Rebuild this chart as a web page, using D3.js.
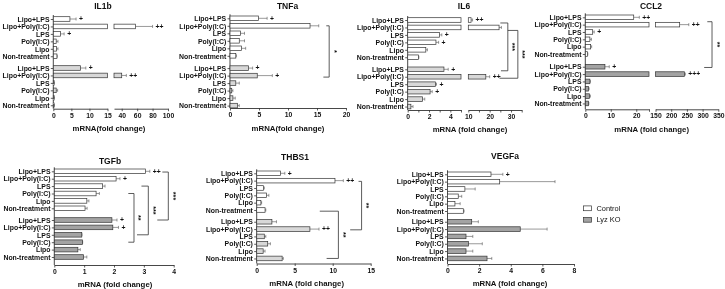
<!DOCTYPE html>
<html><head><meta charset="utf-8">
<script src="https://cdn.jsdelivr.net/npm/d3@7"></script>
<style>body{margin:0;background:#fff}svg{display:block;will-change:transform}text{font-family:"Liberation Sans",Arial,sans-serif;fill:#111}</style>
</head><body><svg id="c" width="725" height="289"></svg>
<script>
const categories = ["Lipo+LPS","Lipo+Poly(I:C)","LPS","Poly(I:C)","Lipo","Non-treatment"];
const seriesNames = ["Control","Lyz KO"];

const il1bControl = [4.6, 58, 2.0, 0.8, 0.9, 1.0];
const il1bControlErr = [6.3, 80, 3.0, 1.3, 1.3, 1.1];
const il1bKO = [7.5, 40, 0.2, 0.8, 0.2, 0.2];
const il1bKOErr = [9, 46, 0.3, 1.2, 0.3, 0.3];
const il1bControlSig = ["+","++","+","","",""];
const il1bKOSig = ["+","++","","","",""];

const tnfaControl = [4.9, 13.8, 1.8, 1.6, 2.0, 1.0];
const tnfaControlErr = [6.4, 15.3, 2.5, 2.5, 2.7, 1.1];
const tnfaKO = [3.2, 4.7, 1.0, 0.3, 0.5, 1.3];
const tnfaKOErr = [3.9, 7.3, 1.6, 0.5, 0.9, 1.6];
const tnfaControlSig = ["+","","","","",""];
const tnfaKOSig = ["+","+","","","",""];

const il6Control = [11.3, 24.4, 2.97, 2.65, 1.7, 1.0];
const il6ControlErr = [12, 25.5, 3.2, 2.9, 1.85, 1.05];
const il6KO = [3.4, 18.2, 2.6, 2.1, 1.4, 0.3];
const il6KOErr = [3.8, 20, 2.7, 2.3, 1.6, 0.5];
const il6ControlSig = ["++","","+","+","",""];
const il6KOSig = ["+","++","+","+","",""];

const ccl2Control = [19, 227, 2.9, 1.8, 2.1, 0.9];
const ccl2ControlErr = [21.2, 256, 3.5, 2.4, 2.5, 1.0];
const ccl2KO = [7.7, 242, 1.8, 1.2, 1.6, 1.3];
const ccl2KOErr = [9.4, 245, 2.0, 1.5, 2.0, 1.4];
const ccl2ControlSig = ["++","++","+","","",""];
const ccl2KOSig = ["+","+++","","","",""];

const tgfbControl = [3.05, 2.07, 1.62, 1.4, 1.09, 1.03];
const tgfbControlErr = [3.2, 2.2, 1.7, 1.51, 1.16, 1.1];
const tgfbKO = [1.93, 1.96, 0.92, 0.94, 0.79, 0.98];
const tgfbKOErr = [2.1, 2.15, 0.93, 0.95, 0.87, 1.09];
const tgfbControlSig = ["++","+","","","",""];
const tgfbKOSig = ["+","+","","","",""];

const thbs1Control = [3.15, 10.3, 0.9, 1.3, 0.55, 1.1];
const thbs1ControlErr = [3.7, 11.4, 1.0, 1.6, 0.65, 1.2];
const thbs1KO = [2.0, 7.0, 1.0, 1.45, 0.85, 3.35];
const thbs1KOErr = [2.6, 8.2, 1.2, 1.8, 1.1, 3.5];
const thbs1ControlSig = ["+","++","","","",""];
const thbs1KOSig = ["","++","","","",""];

const vegfaControl = [2.75, 3.3, 1.1, 0.68, 0.47, 1.0];
const vegfaControlErr = [3.5, 6.8, 1.75, 0.9, 0.8, 1.05];
const vegfaKO = [1.53, 4.6, 1.17, 1.32, 1.17, 2.5];
const vegfaKOErr = [1.95, 6.3, 1.6, 2.2, 1.6, 2.8];
const vegfaControlSig = ["+","","","","",""];
const vegfaKOSig = ["","","","","",""];

// significance brackets: rows (0-5 control, 6-11 KO), x values in data units
const tnfaBrackets = [{rows:[1,7.2], at:17.1, topFrom:16.6, botFrom:16.1, label:"*"}];
const il6Brackets = [{rows:[0.4,6.2], at:28.5, topFrom:25, botFrom:25.3, label:"***"},
                     {rows:[1.4,7.2], at:33.2, topFrom:28.5, botFrom:24.6, label:"***"}];
const ccl2Brackets = [{rows:[0.6,6.1], at:330, topFrom:315, botFrom:305, label:"**"}];
const tgfbBrackets = [{rows:[0.1,6.0], at:3.82, topFrom:3.62, botFrom:3.45, label:"***"},
                      {rows:[2.0,8.0], at:3.15, topFrom:2.92, botFrom:2.77, label:"***"},
                      {rows:[3.0,9.0], at:2.67, topFrom:2.48, botFrom:2.48, label:"**"}];
const thbs1Brackets = [{rows:[1.1,7.1], at:13.8, topFrom:13.4, botFrom:12.3, label:"**"},
                       {rows:[5.1,11.0], at:10.75, topFrom:8.3, botFrom:9.2, label:"**"}];

const LIGHT = "#d8d8d8", DARK = "#a3a3a3";

const panels = [
 {title:"IL1b", c:il1bControl, ce:il1bControlErr, k:il1bKO, ke:il1bKOErr, cs:il1bControlSig, ks:il1bKOSig, br:[],
  segs:[{d:[0,15], r:[53.3,107.5], t:[0,5,10,15], l:[0,5,10,15]},{d:[30,100], r:[114,168], t:[40,60,80,100], l:[40,60,80,100]}],
  y0:19, s:7.45, g:4.3, axisY:108.7, tx:103, ty:9, xt:"mRNA(fold change)", xtx:109, xty:131, ko:LIGHT},
 {title:"TNFa", c:tnfaControl, ce:tnfaControlErr, k:tnfaKO, ke:tnfaKOErr, cs:tnfaControlSig, ks:tnfaKOSig, br:tnfaBrackets,
  segs:[{d:[0,20], r:[230,346], t:[0,5,10,15,20], l:[0,5,10,15,20]}],
  y0:18.3, s:7.5, g:4.8, axisY:108, tx:287.5, ty:9, xt:"mRNA(fold change)", xtx:288, xty:131, ko:LIGHT},
 {title:"IL6", c:il6Control, ce:il6ControlErr, k:il6KO, ke:il6KOErr, cs:il6ControlSig, ks:il6KOSig, br:il6Brackets,
  segs:[{d:[0,5], r:[407.7,461], t:[0,1,2,3,4,5], l:[0,2,4]},{d:[10,35], r:[468.3,521.7], t:[10,15,20,25,30,35], l:[10,20,30]}],
  y0:20, s:7.45, g:4.6, axisY:110, tx:464, ty:9, xt:"mRNA (fold change)", xtx:470, xty:131.5, ko:LIGHT},
 {title:"CCL2", c:ccl2Control, ce:ccl2ControlErr, k:ccl2KO, ke:ccl2KOErr, cs:ccl2ControlSig, ks:ccl2KOSig, br:ccl2Brackets,
  segs:[{d:[0,25], r:[585.3,649], t:[0,10,20,25], l:[0,10,20]},{d:[150,350], r:[655.5,718.3], t:[150,200,250,300,350], l:[150,200,250,300,350]}],
  y0:17.3, s:7.34, g:5.4, axisY:109.3, tx:651, ty:9, xt:"mRNA (fold change)", xtx:651.7, xty:131.5, ko:DARK},
 {title:"TGFb", c:tgfbControl, ce:tgfbControlErr, k:tgfbKO, ke:tgfbKOErr, cs:tgfbControlSig, ks:tgfbKOSig, br:tgfbBrackets,
  segs:[{d:[0,4], r:[54.3,173.7], t:[0,1,2,3,4], l:[0,1,2,3,4]}],
  y0:171.3, s:7.4, g:4.3, axisY:265, tx:110, ty:163.5, xt:"mRNA (fold change)", xtx:115, xty:287, ko:DARK},
 {title:"THBS1", c:thbs1Control, ce:thbs1ControlErr, k:thbs1KO, ke:thbs1KOErr, cs:thbs1ControlSig, ks:thbs1KOSig, br:thbs1Brackets,
  segs:[{d:[0,15], r:[256.7,370.7], t:[0,5,10,15], l:[0,5,10,15]}],
  y0:173.3, s:7.34, g:4.4, axisY:263.5, tx:295, ty:159.5, xt:"mRNA (fold change)", xtx:306.7, xty:286, ko:LIGHT},
 {title:"VEGFa", c:vegfaControl, ce:vegfaControlErr, k:vegfaKO, ke:vegfaKOErr, cs:vegfaControlSig, ks:vegfaKOSig, br:[],
  segs:[{d:[0,8], r:[447.5,574], t:[0,2,4,6,8], l:[0,2,4,6,8]}],
  y0:174.3, s:7.34, g:3.4, axisY:264, tx:505, ty:159, xt:"mRNA (fold change)", xtx:510, xty:286, ko:DARK}
];

const svg = d3.select("#c");
const STROKE = "#333";
const BAR_H = 4.6;

panels.forEach(p => {
  const G = svg.append("g");
  const scales = p.segs.map(sg => d3.scaleLinear().domain(sg.d).range(sg.r));
  const x = v => {
    for (let i = 0; i < scales.length; i++) {
      if (v <= p.segs[i].d[1] || i === scales.length - 1) {
        if (i > 0 && v < p.segs[i].d[0]) return p.segs[i].r[0];
        return scales[i](v);
      }
    }
  };
  const y = d3.scaleLinear().domain([0,5,6,11])
     .range([p.y0, p.y0 + 5*p.s, p.y0 + 6*p.s + p.g, p.y0 + 11*p.s + p.g]);
  const left = p.segs[0].r[0];

  // y axis
  const yAxis = d3.axisLeft(y).tickValues(d3.range(12)).tickSize(2.5).tickPadding(1.3)
      .tickFormat(i => categories[i % 6]);
  const ya = G.append("g").attr("transform", `translate(${left},0)`).call(yAxis);
  ya.select(".domain").remove();
  ya.selectAll("line").attr("stroke", STROKE).attr("stroke-width", 0.8);
  ya.selectAll("text").attr("font-size", 6.9).attr("font-weight", "bold").attr("fill", "#111");
  G.append("line").attr("x1", left).attr("x2", left).attr("y1", p.y0 - 4).attr("y2", p.axisY)
    .attr("stroke", STROKE).attr("stroke-width", 0.9);

  // x axis segments
  p.segs.forEach((sg, i) => {
    const ax = d3.axisBottom(scales[i]).tickValues(sg.t).tickSize(2.5).tickSizeOuter(0).tickPadding(1.8)
       .tickFormat(d => sg.l.includes(d) ? d : "");
    const a = G.append("g").attr("transform", `translate(0,${p.axisY})`).call(ax);
    a.select(".domain").attr("stroke", STROKE).attr("stroke-width", 0.9);
    a.selectAll("line").attr("stroke", STROKE).attr("stroke-width", 0.8);
    a.selectAll("text").attr("font-size", 6.8).attr("font-weight", "bold").attr("fill", "#111");
  });

  // bars
  const rows = [];
  p.c.forEach((v, i) => rows.push({v, e:p.ce[i], s:p.cs[i], idx:i, fill:"#fff"}));
  p.k.forEach((v, i) => rows.push({v, e:p.ke[i], s:p.ks[i], idx:i + 6, fill:p.ko}));

  rows.forEach(r => {
    const yc = y(r.idx);
    G.append("line").attr("x1", x(r.v)).attr("x2", x(r.e)).attr("y1", yc).attr("y2", yc)
      .attr("stroke", "#555").attr("stroke-width", 0.6);
    G.append("line").attr("x1", x(r.e)).attr("x2", x(r.e)).attr("y1", yc - 1.5).attr("y2", yc + 1.5)
      .attr("stroke", "#555").attr("stroke-width", 0.6);
    p.segs.forEach((sg, i) => {
      if (r.v <= sg.d[0] && i > 0) return;
      const x0 = scales[i](sg.d[0]);
      const x1 = scales[i](Math.min(r.v, sg.d[1]));
      G.append("rect").attr("x", x0).attr("y", yc - BAR_H/2).attr("width", Math.max(0.6, x1 - x0))
        .attr("height", BAR_H).attr("fill", r.fill).attr("stroke", STROKE).attr("stroke-width", 0.7);
    });
    if (r.s) {
      G.append("text").attr("x", x(r.e) + 3).attr("y", yc + 2.3).attr("font-size", 6.8)
        .attr("font-weight", "bold").text(r.s);
    }
  });

  // brackets
  p.br.forEach(b => {
    const yt = y(b.rows[0]), yb = y(b.rows[1]), vx = x(b.at);
    G.append("path").attr("d", `M${x(b.topFrom)},${yt}H${vx}V${yb}H${x(b.botFrom)}`)
      .attr("fill", "none").attr("stroke", STROKE).attr("stroke-width", 0.8);
    const ym = (yt + yb) / 2;
    G.append("text").attr("transform", `translate(${vx + 2.5},${ym}) rotate(90)`)
      .attr("text-anchor", "middle").attr("font-size", 7.2).attr("font-weight", "bold").text(b.label);
  });

  // titles
  G.append("text").attr("x", p.tx).attr("y", p.ty).attr("text-anchor", "middle")
    .attr("font-size", 8.5).attr("font-weight", "bold").text(p.title);
  G.append("text").attr("x", p.xtx).attr("y", p.xty).attr("text-anchor", "middle")
    .attr("font-size", 7.8).attr("font-weight", "bold").text(p.xt);
});

// legend
const legend = svg.append("g");
const legendFills = ["#fff", DARK];
const legendY = d3.scalePoint().domain(seriesNames).range([208.3, 219.8]);
seriesNames.forEach((n, i) => {
  legend.append("rect").attr("x", 583.5).attr("y", legendY(n) - 2.4).attr("width", 8).attr("height", 4.8)
    .attr("fill", legendFills[i]).attr("stroke", STROKE).attr("stroke-width", 0.7);
  legend.append("text").attr("x", 596.5).attr("y", legendY(n) + 2.5).attr("font-size", 7.4).text(n);
});
</script></body></html>
